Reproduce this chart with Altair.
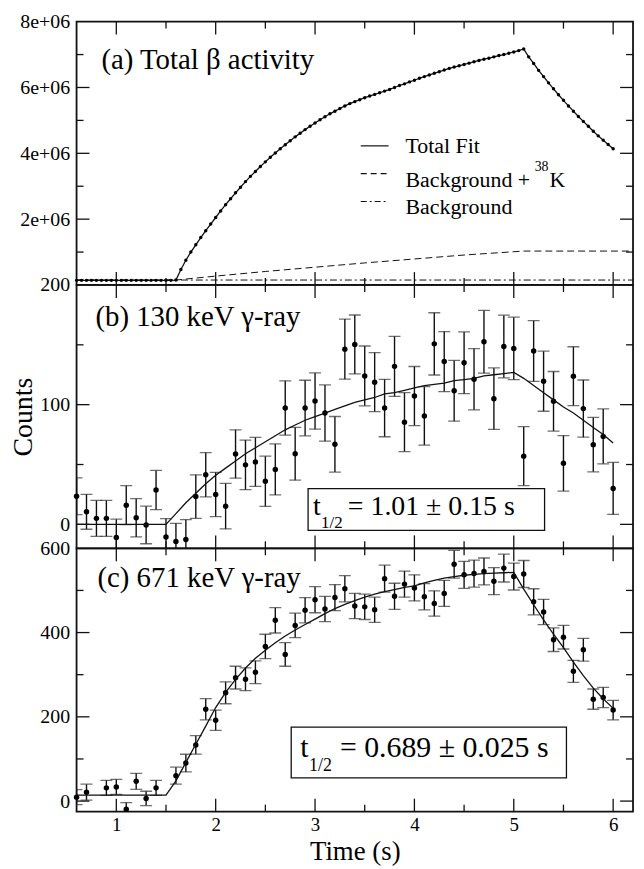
import altair as alt
import pandas as pd

SERIF = "Liberation Serif"

# ---------------- data ----------------
# Panel (a): total beta activity (values in units of 1e6), sampled every 0.05 s
t_a = [round(0.6 + 0.05 * i, 2) for i in range(109)]
beta_a = [0.14] * 20 + [
    0.15, 0.47, 0.75, 1.00, 1.22, 1.44, 1.65, 1.85, 2.05, 2.25,
    2.44, 2.62, 2.80, 2.97, 3.14, 3.30, 3.45, 3.60, 3.74, 3.88,
    4.01, 4.14, 4.26, 4.38, 4.50, 4.61, 4.72, 4.82, 4.92, 5.02,
    5.11, 5.20, 5.28, 5.36, 5.44, 5.51, 5.57, 5.63, 5.69, 5.74,
    5.79, 5.84, 5.89, 5.94, 6.00, 6.06, 6.11, 6.17, 6.22, 6.28,
    6.33, 6.38, 6.43, 6.48, 6.53, 6.58, 6.62, 6.66, 6.70, 6.74,
    6.78, 6.82, 6.86, 6.89, 6.93, 6.97, 7.00, 7.04, 7.08, 7.12,
    7.17,
    6.93, 6.73, 6.52, 6.33, 6.14, 5.96, 5.78, 5.61, 5.44, 5.28,
    5.12, 4.97, 4.82, 4.67, 4.53, 4.40, 4.27, 4.14,
]
bgk_t = [0.6, 1.6, 2.0, 2.5, 3.0, 3.5, 4.0, 4.5, 5.1, 6.2]
bgk_v = [0.15, 0.15, 0.27, 0.41, 0.54, 0.67, 0.79, 0.91, 1.03, 1.03]
bg_t = [0.6, 6.2]
bg_v = [0.15, 0.15]

# Panel (b): 130 keV gamma-ray
t_b = [round(0.6 + 0.1 * i, 1) for i in range(55)]
cnt_b = [23.5, 10.5, 5, 5, -11, 16, 5.5, -0.5, 28.7, -10.5,
         -14.4, -12.7, 23.2, 41.4, 25, 15.2, 58.8, 49.7, 52.2, 36,
         45.9, 97.2, 59, 97.2, 103, 93, 66.9, 146.4, 150.3, 124,
         118.8, 97.2, 132, 85.4, 107.2, 90.6, 150.8, 136, 111.6, 135,
         121.3, 152.5, 105, 148.6, 147, 57, 144.8, 119.6, 102.8, 51,
         123.8, 96.7, 66.6, 73.5, 30]
err_b = [15.3, 14.6, 15, 15, 15.3, 16.3, 16, 15.7, 16.4, 15.3,
         15.3, 16.7, 18.2, 18.5, 18.5, 19, 20.2, 20.7, 20.4, 21,
         21.3, 22.7, 22.1, 23.2, 23.5, 23.5, 23.2, 25.1, 24.6, 25,
         24.7, 24, 25.1, 24.6, 24.7, 24.4, 26, 25.1, 25.4, 25.8,
         25.6, 26.2, 25.7, 26.2, 26.1, 24.6, 25.4, 25.1, 24.9, 23.2,
         24.6, 23.9, 22.7, 22.9, 21.7]
fit_b = [0, 0, 0, 0, 0, 0, 0, 0, 0, 0,
         9, 18, 26, 34, 41, 47, 53, 59, 64, 69,
         74, 79, 83, 87, 90, 93, 96, 99, 102, 104,
         106, 109, 110, 112, 114, 116, 117, 118, 120, 121,
         122, 124, 125, 126, 127,
         122, 116, 110, 104, 98, 93, 87, 81, 75, 68]

# Panel (c): 671 keV gamma-ray
t_c = [0.6, 0.7, 0.9, 1.0, 1.1, 1.2, 1.3, 1.4] + [round(1.6 + 0.1 * i, 1) for i in range(45)]
cnt_c = [9.4, 21.2, 31.4, 33.7, -19.6, 47, 6.3, 31.4,
         60.4, 90.2, 133.3, 218, 192, 257, 293, 289, 306, 367,
         429, 348, 417, 453, 478, 456, 483, 504, 463, 461,
         454, 528, 486, 515, 506, 485, 469, 493, 562, 537,
         540, 545, 522, 553, 533, 539, 473, 449, 383, 389,
         308, 359, 242, 246, 216]
err_c = [18, 19, 18, 18, 16, 19, 17, 18,
         20, 21, 22, 25, 24, 26, 27, 27, 27, 29,
         30, 28, 29, 30, 31, 30, 31, 31, 30, 30,
         30, 32, 31, 31, 31, 31, 30, 31, 33, 32,
         32, 32, 32, 33, 32, 32, 31, 30, 28, 28,
         26, 27, 24, 24, 23]
fit_c = [14, 14, 14, 14, 14, 14, 14, 14, 14, 14,
         48, 92, 135, 178, 222, 258, 289, 316, 339, 358,
         376, 392, 406, 419, 432, 445, 457, 467, 476, 484,
         491, 497, 502, 507, 511, 518, 524, 529, 533, 536,
         538, 540, 541, 542, 543,
         503, 466, 430, 396, 364, 330, 298, 268, 243, 220]

x_major = [1, 2, 3, 4, 5, 6]
x_minor = [1.5, 2.5, 3.5, 4.5, 5.5]

# ---------------- helpers ----------------
W = 560
XDOM = [0.6, 6.2]
INK = "#111"
one = pd.DataFrame({"k": [0]})


def xscale():
    return alt.Scale(domain=XDOM, nice=False, zero=False)


def txt(s, x, y, size, align="left"):
    return alt.Chart(one).mark_text(
        text=s, font=SERIF, fontSize=size, align=align, baseline="alphabetic", color="black"
    ).encode(x=alt.value(x), y=alt.value(y))


def tick_layers(H, X, Y, y_major, y_minor):
    layers = []
    for vals, L in ((y_major, 13), (y_minor, 7)):
        base = alt.Chart(pd.DataFrame({"v": vals})).mark_rule(color=INK, strokeWidth=1.3)
        layers.append(base.encode(y=Y("v"), x=alt.value(0), x2=alt.value(L)))
        layers.append(base.encode(y=Y("v"), x=alt.value(W - L), x2=alt.value(W)))
    for vals, L in ((x_major, 13), (x_minor, 7)):
        base = alt.Chart(pd.DataFrame({"t": vals})).mark_rule(color=INK, strokeWidth=1.3)
        layers.append(base.encode(x=X("t"), y=alt.value(0), y2=alt.value(L)))
        layers.append(base.encode(x=X("t"), y=alt.value(H - L), y2=alt.value(H)))
    return layers


def make_XY(ydom, yaxis, ytitle, xaxis, xtitle):
    def X(f):
        if xaxis is None:
            return alt.X(f, type="quantitative", scale=xscale(), axis=None)
        return alt.X(f, type="quantitative", scale=xscale(), axis=xaxis, title=xtitle)

    def Y(f):
        ys = alt.Scale(domain=ydom, nice=False, zero=False)
        if ytitle is None:
            return alt.Y(f, type="quantitative", scale=ys, axis=yaxis, title=None)
        return alt.Y(f, type="quantitative", scale=ys, axis=yaxis, title=ytitle)

    return X, Y


def yaxis(values, **kw):
    return alt.Axis(values=values, ticks=False, tickSize=0, domain=False, grid=False,
                    labelFontSize=20, labelPadding=7, labelFont=SERIF, labelColor="black", **kw)


def errbar_layers(df, X, Y):
    rules = alt.Chart(df).mark_rule(color=INK, strokeWidth=1.4, clip=True).encode(
        x=X("t"), y=Y("lo"), y2=alt.Y2("hi"))
    caps_lo = alt.Chart(df).mark_tick(color="#333", thickness=1.3, size=12, orient="horizontal", clip=True).encode(
        x=X("t"), y=Y("lo"))
    caps_hi = alt.Chart(df).mark_tick(color="#333", thickness=1.3, size=12, orient="horizontal", clip=True).encode(
        x=X("t"), y=Y("hi"))
    pts = alt.Chart(df).mark_circle(color="black", size=30, opacity=1).encode(x=X("t"), y=Y("c"))
    return [rules, caps_lo, caps_hi, pts]


# ---------------- panel (a) ----------------
HA = 265
Xa, Ya = make_XY([0, 8e6],
                 yaxis([2e6, 4e6, 6e6, 8e6],
                       labelExpr="replace(format(datum.value, '.0e'), 'e+', 'e+0')"),
                 None, None, None)
df_a = pd.DataFrame({"t": t_a, "v": [b * 1e6 for b in beta_a]})
df_bgk = pd.DataFrame({"t": bgk_t, "v": [b * 1e6 for b in bgk_v]})
df_bg = pd.DataFrame({"t": bg_t, "v": [b * 1e6 for b in bg_v]})

a_layers = [
    alt.Chart(df_bg).mark_line(color=INK, strokeWidth=1, strokeDash=[7, 3, 2, 3]).encode(x=Xa("t"), y=Ya("v")),
    alt.Chart(df_bgk).mark_line(color=INK, strokeWidth=1, strokeDash=[7, 4]).encode(x=Xa("t"), y=Ya("v")),
    alt.Chart(df_a).mark_line(color=INK, strokeWidth=1.3).encode(x=Xa("t"), y=Ya("v")),
    alt.Chart(df_a).mark_circle(color="black", size=12, opacity=1).encode(x=Xa("t"), y=Ya("v")),
    txt("(a) Total \u03b2 activity", 25, 48, 29),
    # legend
    alt.Chart(one).mark_rule(color=INK, strokeWidth=1.2).encode(x=alt.value(286), x2=alt.value(314), y=alt.value(125)),
    alt.Chart(one).mark_rule(color=INK, strokeWidth=1.2, strokeDash=[6, 4]).encode(x=alt.value(286), x2=alt.value(314), y=alt.value(153)),
    alt.Chart(one).mark_rule(color=INK, strokeWidth=1.2, strokeDash=[6, 3, 2, 3]).encode(x=alt.value(286), x2=alt.value(314), y=alt.value(181)),
    txt("Total Fit", 331, 132, 22),
    txt("Background +", 331, 166, 22),
    txt("38", 461, 150, 14),
    txt("K", 476, 166, 22),
    txt("Background", 331, 194, 22),
] + tick_layers(HA, Xa, Ya, [2e6, 4e6, 6e6], [1e6, 3e6, 5e6, 7e6])

panel_a = alt.layer(*a_layers).properties(width=W, height=HA)

# ---------------- panel (b) ----------------
HB = 265
Xb, Yb = make_XY([-20, 200],
                 yaxis([0, 100, 200], titleFontSize=28, titleFont=SERIF, titleFontWeight="normal",
                       titleColor="black", titlePadding=2),
                 "Counts", None, None)
df_b = pd.DataFrame({"t": t_b, "c": cnt_b,
                     "lo": [c - e for c, e in zip(cnt_b, err_b)],
                     "hi": [c + e for c, e in zip(cnt_b, err_b)]})
df_fb = pd.DataFrame({"t": t_b, "f": fit_b})
b_layers = errbar_layers(df_b, Xb, Yb) + [
    alt.Chart(df_fb).mark_line(color=INK, strokeWidth=1.3).encode(x=Xb("t"), y=Yb("f")),
    txt("(b) 130 keV \u03b3-ray", 19, 41, 29),
    alt.Chart(one).mark_rect(fill="white", stroke=INK, strokeWidth=1.3).encode(
        x=alt.value(233), x2=alt.value(471), y=alt.value(205), y2=alt.value(247)),
    txt("t", 238, 231, 28),
    txt("1/2", 246, 245, 17),
    txt("= 1.01 \u00b1 0.15 s", 273, 231, 28),
] + tick_layers(HB, Xb, Yb, [0, 100], [50, 150])

panel_b = alt.layer(*b_layers).properties(width=W, height=HB)

# ---------------- panel (c) ----------------
HC = 265
Xc, Yc = make_XY([-25, 600],
                 yaxis([0, 200, 400, 600]),
                 None,
                 alt.Axis(values=x_major, format="d", ticks=False, tickSize=0, domain=False, grid=False,
                          labelFontSize=19, labelPadding=4, labelFlush=False, labelFont=SERIF,
                          labelColor="black", titleFontSize=27, titleFont=SERIF,
                          titleFontWeight="normal", titleColor="black", titlePadding=4),
                 "Time (s)")
df_c = pd.DataFrame({"t": t_c, "c": cnt_c,
                     "lo": [c - e for c, e in zip(cnt_c, err_c)],
                     "hi": [c + e for c, e in zip(cnt_c, err_c)]})
df_fc = pd.DataFrame({"t": t_b, "f": fit_c})
c_layers = errbar_layers(df_c, Xc, Yc) + [
    alt.Chart(df_fc).mark_line(color=INK, strokeWidth=1.3).encode(x=Xc("t"), y=Yc("f")),
    txt("(c) 671 keV \u03b3-ray", 21, 39, 29),
    alt.Chart(one).mark_rect(fill="white", stroke=INK, strokeWidth=1.3).encode(
        x=alt.value(216), x2=alt.value(493), y=alt.value(180), y2=alt.value(231)),
    txt("t", 225, 210, 30),
    txt("1/2", 234, 224, 18),
    txt("= 0.689 \u00b1 0.025 s", 265, 210, 30),
] + tick_layers(HC, Xc, Yc, [0, 200, 400], [100, 300, 500])

panel_c = alt.layer(*c_layers).properties(width=W, height=HC)

chart = alt.vconcat(panel_a, panel_b, panel_c, spacing=0, bounds="flush").properties(
    padding={"left": 1, "top": 0, "right": 0, "bottom": 0}
).configure_view(
    stroke=INK, strokeWidth=1.8
).configure_axis(
    grid=False, labelFont=SERIF, titleFont=SERIF
)

chart.save("out.html", embed_options={"renderer": "svg", "actions": False})
